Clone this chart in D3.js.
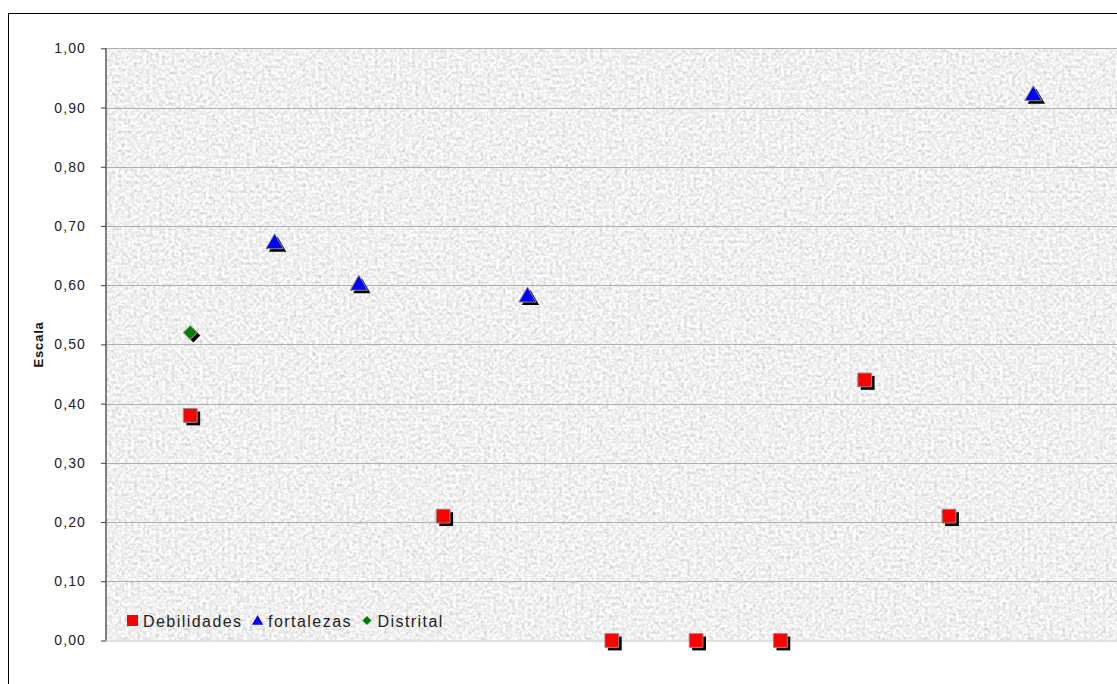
<!DOCTYPE html>
<html>
<head>
<meta charset="utf-8">
<script src="https://cdn.jsdelivr.net/npm/d3@7"></script>
<style>
  html, body { margin: 0; padding: 0; background: #fff; }
  svg { display: block; font-family: Arial, "Liberation Sans", sans-serif; }
</style>
</head>
<body>
<svg id="chart" width="1117" height="684"></svg>
<script>
// Category slots along the x axis (slot 0 sits on the value axis, slot 12 on the right edge)
const categoryCount = 13;

// Debilidades (red squares)
const debilidadesCat = [1, 4, 6, 7, 8, 9, 10];
const debilidadesVal = [0.38, 0.21, 0.00, 0.00, 0.00, 0.44, 0.21];

// fortalezas (blue triangles)
const fortalezasCat = [2, 3, 5, 11];
const fortalezasVal = [0.67, 0.60, 0.58, 0.92];

// Distrital (green diamond)
const distritalCat = [1];
const distritalVal = [0.52];

const yTicks = [0, 0.1, 0.2, 0.3, 0.4, 0.5, 0.6, 0.7, 0.8, 0.9, 1.0];
const seriesNames = ["Debilidades", "fortalezas", "Distrital"];
const seriesColors = ["#ff0000", "#0000ff", "#008000"];

const svg = d3.select("#chart");
const plot = { left: 106, top: 48.3, right: 1117.6, bottom: 640.5 };

const x = d3.scaleLinear().domain([0, categoryCount - 1]).range([plot.left, plot.right]);
const y = d3.scaleLinear().domain([0, 1]).range([plot.bottom, plot.top]);

// Grainy grey fill for the plot area
const defs = svg.append("defs");
const grain = defs.append("filter").attr("id", "grain")
  .attr("x", 0).attr("y", 0).attr("width", "100%").attr("height", "100%")
  .attr("color-interpolation-filters", "sRGB");
grain.append("feTurbulence").attr("type", "fractalNoise")
  .attr("baseFrequency", 0.32).attr("numOctaves", 3).attr("seed", 11).attr("result", "noise");
grain.append("feColorMatrix").attr("type", "matrix").attr("in", "noise")
  .attr("values", "0.18 0.18 0.18 0 0.67  0.18 0.18 0.18 0 0.67  0.18 0.18 0.18 0 0.67  0 0 0 0 1");

// Marker shapes: square, triangle, square turned 45 degrees
const shapes = [
  size => d3.symbol().type(d3.symbolSquare).size(size)(),
  size => d3.symbol().type(d3.symbolTriangle).size(size)(),
  size => d3.symbol().type(d3.symbolSquare).size(size)()
];
const shapeRotate = [0, 0, 45];

// Outer chart frame
svg.append("rect")
  .attr("x", 8.5).attr("y", 13.5).attr("width", 1200).attr("height", 800)
  .attr("fill", "#fff").attr("stroke", "#000").attr("stroke-width", 1);

svg.append("rect")
  .attr("x", plot.left).attr("y", plot.top)
  .attr("width", plot.right - plot.left).attr("height", plot.bottom - plot.top)
  .attr("fill", "#e8e8e8")
  .attr("filter", "url(#grain)");

// Horizontal gridlines
svg.append("g").selectAll("line")
  .data(yTicks.filter(d => d > 0))
  .join("line")
  .attr("x1", plot.left).attr("x2", plot.right)
  .attr("y1", d => Math.round(y(d)) + 0.5).attr("y2", d => Math.round(y(d)) + 0.5)
  .attr("stroke", "#b0b0b0").attr("stroke-width", 1);

// Bottom edge of the plot area
svg.append("line")
  .attr("x1", plot.left).attr("x2", plot.right)
  .attr("y1", plot.bottom + 0.5).attr("y2", plot.bottom + 0.5)
  .attr("stroke", "#d8d8d8").attr("stroke-width", 1.5);

// Value axis
const yAxis = d3.axisLeft(y)
  .tickValues(yTicks)
  .tickSize(5)
  .tickPadding(15)
  .tickFormat(d => d3.format(".2f")(d).replace(".", ","));
const yg = svg.append("g").attr("transform", `translate(${plot.left},0)`).call(yAxis);
yg.select(".domain").attr("stroke", "#808080").attr("stroke-width", 2)
  .attr("d", `M0,${plot.top}V${plot.bottom}`);
yg.selectAll(".tick line").attr("stroke", "#404040").attr("stroke-width", 1);
yg.selectAll(".tick text").attr("font-size", 14).attr("fill", "#222")
  .attr("letter-spacing", 1.1)
  .attr("font-family", "Arial, 'Liberation Sans', sans-serif");

svg.append("text")
  .attr("transform", `translate(43,${(plot.top + plot.bottom) / 2}) rotate(-90)`)
  .attr("text-anchor", "middle")
  .attr("font-size", 13).attr("font-weight", "bold").attr("fill", "#111")
  .attr("letter-spacing", 0.8)
  .text("Escala");

// Markers with a dark drop shadow
const series = [
  { cats: debilidadesCat, vals: debilidadesVal, size: 190 },
  { cats: fortalezasCat, vals: fortalezasVal, size: 130 },
  { cats: distritalCat, vals: distritalVal, size: 95 }
];
series.forEach((s, i) => {
  const pts = s.cats.map((c, j) => ({ c, v: s.vals[j] }));
  const g = svg.append("g");
  g.selectAll("path.shadow").data(pts).join("path")
    .attr("class", "shadow")
    .attr("d", shapes[i](s.size))
    .attr("transform", d => `translate(${x(d.c) + 3},${y(d.v) + 3}) rotate(${shapeRotate[i]})`)
    .attr("fill", "#000");
  g.selectAll("path.mark").data(pts).join("path")
    .attr("class", "mark")
    .attr("d", shapes[i](s.size))
    .attr("transform", d => `translate(${x(d.c)},${y(d.v)}) rotate(${shapeRotate[i]})`)
    .attr("fill", seriesColors[i])
    .attr("stroke", "#8c8c8c").attr("stroke-width", 1);
});

// Legend inside the plot, lower left
const legend = svg.append("g").attr("transform", "translate(132.5,620.5)");
const legendSizes = [121, 55, 42];
let lx = 0;
seriesNames.forEach((name, i) => {
  legend.append("path").attr("d", shapes[i](legendSizes[i]))
    .attr("transform", `translate(${lx},${i === 1 ? 1 : 0}) rotate(${shapeRotate[i]})`)
    .attr("fill", seriesColors[i]);
  const t = legend.append("text")
    .attr("x", lx + 10.5).attr("y", 6)
    .attr("font-size", 16).attr("fill", "#222")
    .attr("letter-spacing", 1.45)
    .text(name);
  const w = t.node().getComputedTextLength();
  lx += 10.5 + w + 15;
});
</script>
</body>
</html>
